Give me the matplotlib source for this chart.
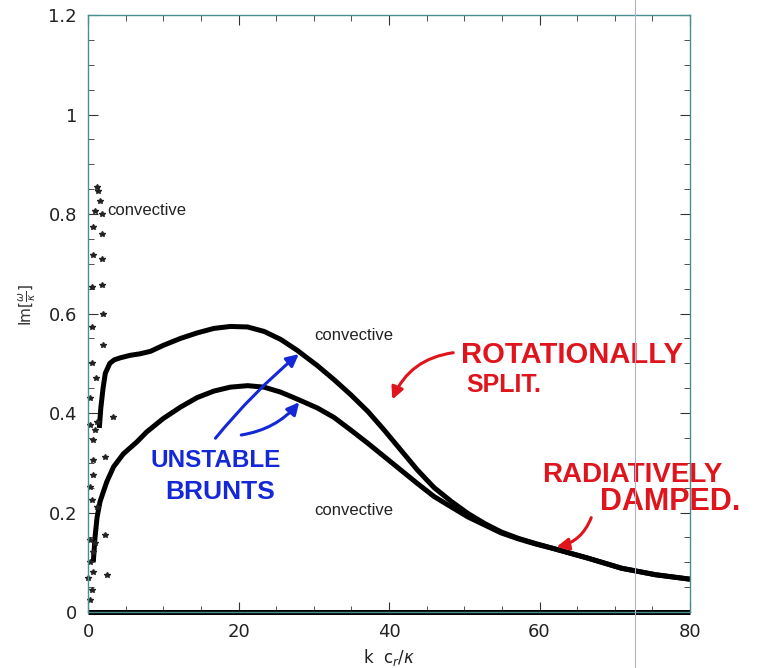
import matplotlib.pyplot as plt
from matplotlib.lines import Line2D

WIDTH = 7.81
HEIGHT = 6.68

# upper branch (rotationally split partner)
upper_k = [1.5, 1.7, 2.0, 2.3, 2.9, 3.5, 4.3, 5.6, 6.9, 8.3, 10.0, 12.3, 14.5,
           16.7, 18.9, 21.2, 23.4, 25.6, 27.8, 30.5, 32.7, 34.9, 37.2, 39.4, 41.6,
           43.8, 46.0, 48.3, 50.5, 52.7, 54.9, 57.2, 59.4, 62.0, 66.5, 70.9, 75.4, 80.0]
upper_im = [0.37, 0.41, 0.45, 0.48, 0.5, 0.507, 0.511, 0.516, 0.519, 0.524,
            0.536, 0.55, 0.561, 0.57, 0.574, 0.573, 0.564, 0.548, 0.526, 0.495, 0.467,
            0.437, 0.403, 0.365, 0.325, 0.285, 0.25, 0.222, 0.198, 0.178, 0.161,
            0.148, 0.138, 0.127, 0.108, 0.088, 0.075, 0.066]

# lower branch
lower_k = [0.7, 0.93, 1.2, 1.6, 2.0, 2.5, 3.4, 4.7, 6.5, 7.8, 10.0, 12.3, 14.5, 16.7,
           18.9, 21.2, 23.4, 25.6, 27.8, 30.5, 32.7, 34.9, 37.2, 39.4, 41.6, 43.8,
           46.0, 48.3, 50.5, 52.7, 54.9, 57.2, 59.4, 62.0, 66.5, 70.9, 75.4, 80.0]
lower_im = [0.1, 0.15, 0.19, 0.222, 0.24, 0.262, 0.292, 0.318, 0.342, 0.362, 0.389,
            0.412, 0.431, 0.444, 0.452, 0.455, 0.452, 0.442, 0.428, 0.41, 0.391,
            0.366, 0.339, 0.312, 0.285, 0.258, 0.232, 0.211, 0.191, 0.175, 0.159,
            0.147, 0.137, 0.127, 0.108, 0.088, 0.075, 0.066]

# stable branch along zero
zero_k = [0.0, 80.0]
zero_im = [0.0, 0.0]

# convective modes (stars) near k=0
star_k = [1.16, 1.38, 1.6, 0.93, 1.82, 0.71, 1.82, 0.71, 1.82, 0.49, 1.82, 2.04, 0.49,
          2.04, 3.38, 1.16, 0.93, 0.27, 0.71, 2.27, 0.71, 0.71, 0.27, 0.49, 1.16, 2.27,
          0.27, 0.93, 0.71, 0.27, 0.71, 2.49, 0.04, 0.49, 0.27, 1.0, 0.5, 0.3]
star_im = [0.854, 0.847, 0.827, 0.807, 0.80, 0.774, 0.76, 0.717, 0.71, 0.653, 0.657,
           0.60, 0.573, 0.536, 0.392, 0.382, 0.365, 0.375, 0.345, 0.312, 0.305, 0.275,
           0.252, 0.225, 0.211, 0.155, 0.145, 0.138, 0.121, 0.101, 0.081, 0.074, 0.068,
           0.044, 0.024, 0.47, 0.5, 0.43]

SPINE = '#4a8f8f'
RED = '#e0141c'
BLUE = '#1428d8'

fig = plt.figure(figsize=(WIDTH, HEIGHT), dpi=100)
ax = fig.add_axes([0.1127, 0.0838, 0.7708, 0.8937])
plt.rcParams['font.family'] = ['Liberation Sans', 'DejaVu Sans']

curve_style = dict(color='black', lw=3.6, solid_capstyle='butt', solid_joinstyle='round')
ax.plot(upper_k, upper_im, **curve_style)
ax.plot(lower_k, lower_im, **curve_style)
ax.plot(zero_k, zero_im, color='black', lw=3.6, clip_on=False, solid_capstyle='butt')
ax.plot(star_k, star_im, ls='none', marker='*', ms=4, color='#222222', clip_on=False)

ax.set_xlim(0, 80)
ax.set_ylim(0, 1.2)
ax.set_xticks([0, 20, 40, 60, 80])
ax.set_xticks(range(0, 81, 5), minor=True)
ax.set_yticks([0, 0.2, 0.4, 0.6, 0.8, 1.0, 1.2])
ax.set_yticklabels(['0', '0.2', '0.4', '0.6', '0.8', '1', '1.2'])
ax.set_xticklabels(['0', '20', '40', '60', '80'])
ax.set_yticks([i * 0.05 for i in range(25)], minor=True)
ax.tick_params(which='both', direction='in', top=True, right=True, color='#333333',
               labelsize=13, labelcolor='#222222')
ax.tick_params(which='major', length=7, pad=8)
ax.tick_params(which='minor', length=4)
for s in ax.spines.values():
    s.set_color(SPINE)
    s.set_linewidth(1.0)

ax.set_xlabel(r'k  c$_r$/$\kappa$', fontsize=12, labelpad=4, color='#222222')
ax.set_ylabel(r'Im[$\frac{\omega}{\kappa}$]', fontsize=11, color='#333333')
ax.yaxis.set_label_coords(-0.083, 0.514)

# printed labels
for tx, ty in [(2.6, 0.807), (30.0, 0.556), (30.0, 0.205)]:
    ax.text(tx, ty, 'convective', fontsize=12, color='#222222', va='center')

# handwritten notes
ax.text(49.6, 0.516, 'ROTATIONALLY', color=RED, fontsize=21, fontweight='bold',
        va='center', clip_on=False)
ax.text(50.3, 0.456, 'SPLIT.', color=RED, fontsize=18, fontweight='bold', va='center')
ax.annotate('', xy=(40.3, 0.422), xytext=(48.9, 0.522),
            arrowprops=dict(arrowstyle='-|>', color=RED, lw=2.2, mutation_scale=18,
                            connectionstyle='arc3,rad=0.3'))

ax.text(60.3, 0.275, 'RADIATIVELY', color=RED, fontsize=20, fontweight='bold',
        va='center', clip_on=False)
ax.text(68.0, 0.222, 'DAMPED.', color=RED, fontsize=22, fontweight='bold',
        va='center', clip_on=False)
ax.annotate('', xy=(61.9, 0.13), xytext=(67.0, 0.195),
            arrowprops=dict(arrowstyle='-|>', color=RED, lw=2.2, mutation_scale=18,
                            connectionstyle='arc3,rad=-0.3'))

ax.text(8.3, 0.305, 'UNSTABLE', color=BLUE, fontsize=17.5, fontweight='bold',
        va='center')
ax.text(10.3, 0.241, 'BRUNTS', color=BLUE, fontsize=19, fontweight='bold', va='center')
ax.annotate('', xy=(28.3, 0.522), xytext=(16.7, 0.345),
            arrowprops=dict(arrowstyle='-|>', color=BLUE, lw=2.2, mutation_scale=18,
                            connectionstyle='arc3,rad=-0.05'))
ax.annotate('', xy=(28.3, 0.426), xytext=(20.0, 0.355),
            arrowprops=dict(arrowstyle='-|>', color=BLUE, lw=2.2, mutation_scale=18,
                            connectionstyle='arc3,rad=0.2'))

# scanner streak
fig.add_artist(Line2D([0.813, 0.813], [0, 1], color='#b8b0c8', lw=0.8))

fig.savefig('out.png', dpi=100)
